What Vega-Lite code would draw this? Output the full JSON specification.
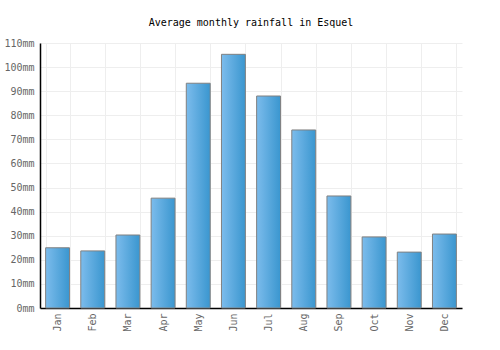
{
  "$schema": "https://vega.github.io/schema/vega-lite/v6.json",
  "autosize": {"type": "none"},
  "width": 422,
  "height": 265,
  "padding": {"left": 40, "top": 43, "right": 38, "bottom": 42},
  "background": "white",
  "title": {
    "text": "Average monthly rainfall in Esquel",
    "font": "DejaVu Sans Mono",
    "fontSize": 10,
    "fontWeight": "normal",
    "color": "#000000",
    "offset": 10,
    "anchor": "middle"
  },
  "config": {
    "view": {"stroke": null},
    "axis": {
      "labelFont": "DejaVu Sans Mono",
      "labelFontSize": 10,
      "labelColor": "#666666",
      "gridColor": "#eeeeee",
      "gridWidth": 1,
      "domainColor": "#000000",
      "domainWidth": 1.5,
      "ticks": false,
      "title": null
    }
  },
  "data": {
    "values": [
      {"month": "Jan", "rain": 25},
      {"month": "Feb", "rain": 23.7},
      {"month": "Mar", "rain": 30.3},
      {"month": "Apr", "rain": 45.6},
      {"month": "May", "rain": 93.3},
      {"month": "Jun", "rain": 105.3},
      {"month": "Jul", "rain": 88},
      {"month": "Aug", "rain": 73.9},
      {"month": "Sep", "rain": 46.5},
      {"month": "Oct", "rain": 29.5},
      {"month": "Nov", "rain": 23.2},
      {"month": "Dec", "rain": 30.7}
    ]
  },
  "mark": {
    "type": "bar",
    "stroke": "#808080",
    "strokeWidth": 1,
    "color": {
      "gradient": "linear",
      "x1": 0, "y1": 0, "x2": 1, "y2": 0,
      "stops": [
        {"offset": 0, "color": "#7cbcec"},
        {"offset": 1, "color": "#3a96cf"}
      ]
    }
  },
  "encoding": {
    "x": {
      "field": "month",
      "type": "nominal",
      "sort": null,
      "scale": {"paddingInner": 0.32, "paddingOuter": 0.16},
      "axis": {
        "labelAngle": -90,
        "labelAlign": "right",
        "labelBaseline": "middle",
        "labelPadding": 5,
        "grid": true,
        "tickBand": "extent"
      }
    },
    "y": {
      "field": "rain",
      "type": "quantitative",
      "scale": {"domain": [0, 110], "nice": false},
      "axis": {
        "values": [0, 10, 20, 30, 40, 50, 60, 70, 80, 90, 100, 110],
        "labelExpr": "datum.value + 'mm'",
        "labelPadding": 6,
        "grid": true
      }
    }
  }
}
